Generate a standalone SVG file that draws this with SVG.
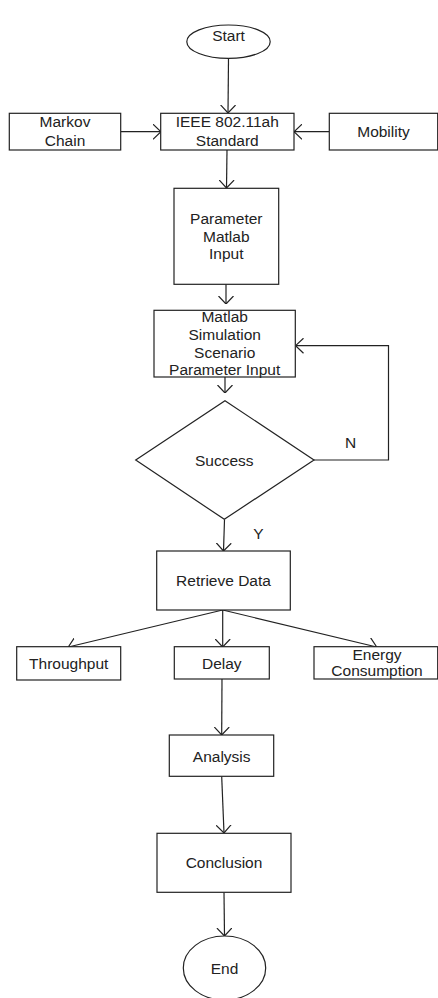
<svg xmlns="http://www.w3.org/2000/svg" width="438" height="998" viewBox="0 0 438 998">
<style>
.n{fill:#fff;stroke:#222;stroke-width:1.2}
.t{font-family:"Liberation Sans",Arial,sans-serif;font-size:15.5px;fill:#222;text-anchor:middle}
.c{fill:none;stroke:#222;stroke-width:1.2}
</style>
<defs>
<marker id="a" viewBox="0 0 8 16" refX="8" refY="8" markerWidth="8" markerHeight="16" markerUnits="userSpaceOnUse" orient="auto">
<path d="M0,0.5 L8,8 L0,15.5" fill="none" stroke="#222" stroke-width="1.2"/>
</marker>
</defs>
<rect width="438" height="998" fill="#fff"/>
<g id="connectors">
<path class="c" d="M228.5,58.5 L228,113" marker-end="url(#a)"/>
<path class="c" d="M121,131.7 L161,131.7" marker-end="url(#a)"/>
<path class="c" d="M329,131.7 L294,131.7" marker-end="url(#a)"/>
<path class="c" d="M227,150 L226.5,188" marker-end="url(#a)"/>
<path class="c" d="M226,284 L226,304" marker-end="url(#a)"/>
<path class="c" d="M225,377 L225,393" marker-end="url(#a)"/>
<path class="c" d="M314,460 L388.5,460 L388.5,345.7 L295.5,345.7" marker-end="url(#a)"/>
<path class="c" d="M224.5,519.5 L223.5,551" marker-end="url(#a)"/>
<path class="c" d="M222.7,610 L68.3,647" marker-end="url(#a)"/>
<path class="c" d="M222.7,610 L222.7,647" marker-end="url(#a)"/>
<path class="c" d="M222.7,610 L376.7,647" marker-end="url(#a)"/>
<path class="c" d="M222,679 L221.7,735" marker-end="url(#a)"/>
<path class="c" d="M221.7,776.5 L224,833" marker-end="url(#a)"/>
<path class="c" d="M224,892.5 L224.5,936" marker-end="url(#a)"/>
<text class="t" x="350.7" y="447.5">N</text>
<text class="t" x="258.3" y="538.5">Y</text>
</g>
<g id="start"><ellipse class="n" cx="228.5" cy="41.7" rx="41.7" ry="16.7"/><text class="t" x="228.5" y="40.5">Start</text></g>
<g id="markov"><rect class="n" x="9.3" y="113.3" width="111.4" height="36.7"/><text class="t" x="65" y="127">Markov</text><text class="t" x="65" y="145.5">Chain</text></g>
<g id="ieee"><rect class="n" x="160.7" y="113.3" width="133.3" height="36.7"/><text class="t" x="227.3" y="127">IEEE 802.11ah</text><text class="t" x="227.3" y="145.5">Standard</text></g>
<g id="mobility"><rect class="n" x="329.3" y="113.3" width="108.4" height="36.7"/><text class="t" x="383.5" y="137">Mobility</text></g>
<g id="param"><rect class="n" x="174" y="188.3" width="104.7" height="96"/><text class="t" x="226.3" y="223.5">Parameter</text><text class="t" x="226.3" y="241.5">Matlab</text><text class="t" x="226.3" y="258.5">Input</text></g>
<g id="matlab"><rect class="n" x="154" y="310.3" width="141.3" height="66.7"/><text class="t" x="224.7" y="322">Matlab</text><text class="t" x="224.7" y="340">Simulation</text><text class="t" x="224.7" y="357.5">Scenario</text><text class="t" x="224.7" y="375">Parameter Input</text></g>
<g id="success"><path class="n" d="M225,400.7 L314,460 L224.3,519.3 L135.7,460 Z"/><text class="t" x="224.3" y="465.5">Success</text></g>
<g id="retrieve"><rect class="n" x="156.7" y="551" width="133.6" height="59"/><text class="t" x="223.5" y="586">Retrieve Data</text></g>
<g id="throughput"><rect class="n" x="16.7" y="646.7" width="104" height="33.3"/><text class="t" x="68.7" y="669">Throughput</text></g>
<g id="delay"><rect class="n" x="174.3" y="646.7" width="95" height="32.3"/><text class="t" x="221.8" y="669">Delay</text></g>
<g id="energy"><rect class="n" x="314" y="646.7" width="123.7" height="32.3"/><text class="t" x="377" y="660">Energy</text><text class="t" x="377" y="676">Consumption</text></g>
<g id="analysis"><rect class="n" x="169.3" y="735" width="104.4" height="41.3"/><text class="t" x="221.7" y="761.5">Analysis</text></g>
<g id="conclusion"><rect class="n" x="157" y="833.3" width="134" height="59"/><text class="t" x="224" y="868">Conclusion</text></g>
<g id="end"><ellipse class="n" cx="224.5" cy="968" rx="41.2" ry="32"/><text class="t" x="224.5" y="973.5">End</text></g>
</svg>
